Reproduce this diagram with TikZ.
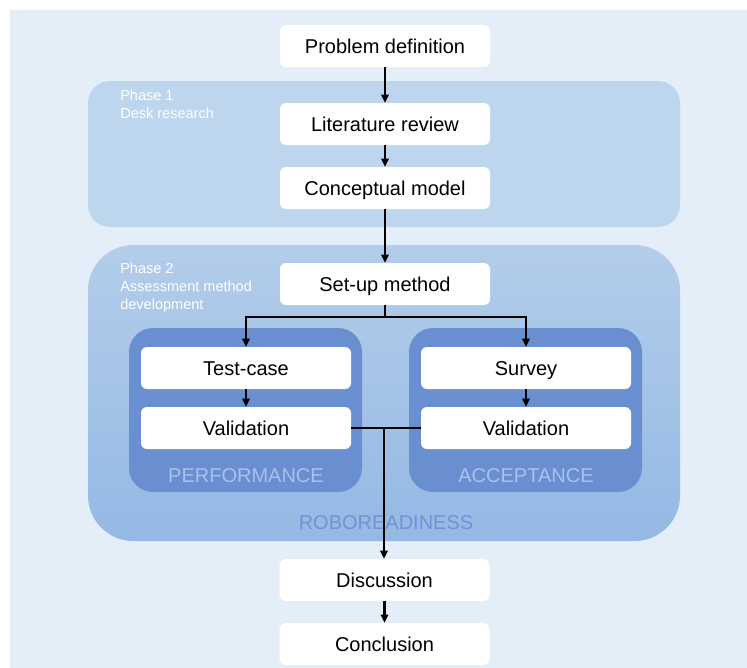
\documentclass[tikz,border=0pt]{standalone}
\usepackage{fontspec}
\setmainfont{Liberation Sans}
\usetikzlibrary{arrows.meta}
\definecolor{bgcol}{HTML}{E4EEF9}
\definecolor{phaseone}{HTML}{BDD5ED}
\definecolor{phasetwotop}{HTML}{B3CDEA}
\definecolor{phasetwobot}{HTML}{94B9E4}
\definecolor{innercol}{HTML}{6A8FD0}
\definecolor{innerlabel}{HTML}{A9C1EB}
\definecolor{roborcol}{HTML}{6E93D7}
\tikzset{
  stepbox/.style={fill=white, rounded corners=4.5pt, minimum width=157.5pt, minimum height=31.5pt,
    inner sep=0pt, text height=10.5pt, text depth=0pt, font=\fontsize{15}{18}\selectfont, text=black},
  phaselabel/.style={anchor=north west, inner sep=0pt, align=left, text=white,
    font=\fontsize{10.9}{13.5}\selectfont},
  grouplabel/.style={inner sep=0pt, font=\fontsize{15}{18}\selectfont},
  conn/.style={line width=1.6pt, draw=black},
  arr/.style={conn, -{Triangle[length=6pt,width=5.4pt]}},
}
\begin{document}
\begin{tikzpicture}[x=0.75pt, y=-0.75pt]
\useasboundingbox (0,0) rectangle (747,668);
% background
\fill[bgcol] (10,10) rectangle (747,668);
% phase containers
\node[fill=phaseone, rounded corners=16.5pt, minimum width=444pt, minimum height=109.5pt, inner sep=0pt] (p1) at (384,154) {};
\node[top color=phasetwotop, bottom color=phasetwobot, rounded corners=34pt, minimum width=444pt, minimum height=222pt, inner sep=0pt] (p2) at (384,393) {};
% inner group boxes
\node[fill=innercol, rounded corners=18pt, minimum width=174.75pt, minimum height=123pt, inner sep=0pt] (perf) at (245.5,410) {};
\node[fill=innercol, rounded corners=18pt, minimum width=174.75pt, minimum height=123pt, inner sep=0pt] (acc) at (525.5,410) {};
% labels
\node[phaselabel] (l1) at (120,90) {Phase 1\\Desk research};
\node[phaselabel] (l2) at (120,263) {Phase 2\\Assessment method\\development};
\node[grouplabel, text=innerlabel] (lperf) at (246,476) {PERFORMANCE};
\node[grouplabel, text=innerlabel] (lacc) at (526,476) {ACCEPTANCE};
\node[grouplabel, text=roborcol] (lrobo) at (386,522.5) {ROBOREADINESS};
% steps
\node[stepbox] (pd) at (385,46) {Problem definition};
\node[stepbox] (lr) at (385,124) {Literature review};
\node[stepbox] (cm) at (385,188) {Conceptual model};
\node[stepbox] (sm) at (385,284) {Set-up method};
\node[stepbox] (tc) at (246,368) {Test-case};
\node[stepbox] (v1) at (246,428) {Validation};
\node[stepbox] (sv) at (526,368) {Survey};
\node[stepbox] (v2) at (526,428) {Validation};
\node[stepbox] (ds) at (384.5,580) {Discussion};
\node[stepbox] (cl) at (384.5,644) {Conclusion};
% connectors
\coordinate (br) at (385,317);
\coordinate (mg) at (384,428);
\draw[arr] (pd) -- (lr);
\draw[arr] (lr) -- (cm);
\draw[arr] (cm) -- (sm);
\draw[conn] (sm.south) -- (br);
\draw[arr] (br) -| (tc.north);
\draw[arr] (br) -| (sv.north);
\draw[arr] (tc) -- (v1);
\draw[arr] (sv) -- (v2);
\draw[conn] (v1.east) -- (v2.west);
\draw[arr] (mg) -- (mg |- ds.north);
\draw[arr] (ds) -- (cl);
\end{tikzpicture}
\end{document}
